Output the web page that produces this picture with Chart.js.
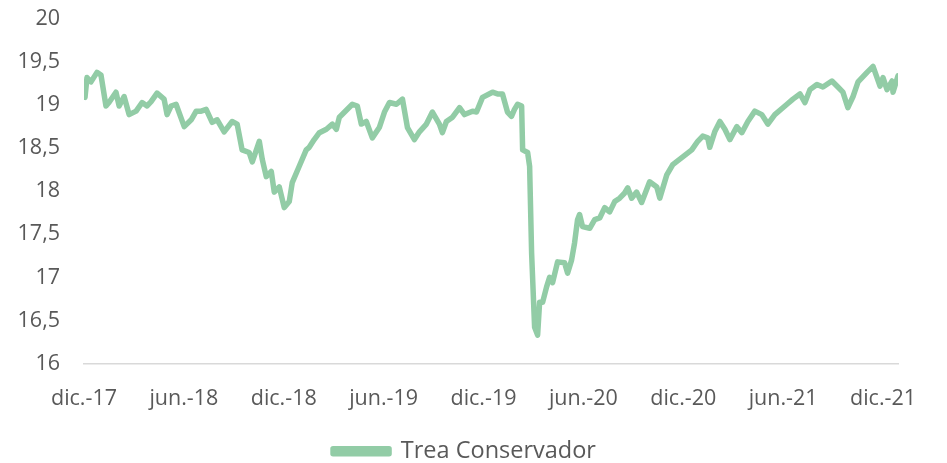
<!DOCTYPE html>
<html>
<head>
<meta charset="utf-8">
<script src="https://cdn.jsdelivr.net/npm/chart.js@4/dist/chart.umd.min.js"></script>
<style>
  html, body { margin: 0; padding: 0; background: #ffffff; }
  #wrap { width: 947px; height: 463px; position: relative; }
</style>
</head>
<body>
<div id="wrap"><canvas id="c"></canvas></div>
<script>
// Months elapsed since Dec-2017 (x position) and fund value
const months = [0.06,0.18,0.42,0.78,1.02,1.32,1.50,1.92,2.11,2.41,2.71,3.13,3.49,3.79,4.03,4.39,4.81,4.99,5.23,5.53,
  6.02,6.44,6.74,7.04,7.34,7.70,8.00,8.42,8.90,9.20,9.50,9.92,10.11,10.53,10.71,10.95,11.25,11.43,11.73,12.03,
  12.33,12.51,12.93,13.35,13.53,13.83,14.14,14.56,14.92,15.16,15.34,16.12,16.42,16.66,16.96,17.32,17.74,18.05,18.35,18.77,
  19.13,19.43,19.85,20.15,20.57,20.93,21.35,21.53,21.77,22.14,22.56,22.86,23.34,23.58,23.94,24.54,24.84,25.14,25.44,25.68,
  25.86,26.05,26.29,26.35,26.65,26.77,26.89,27.07,27.25,27.37,27.55,27.79,27.97,28.15,28.45,28.87,29.05,29.29,29.47,29.65,
  29.77,29.95,30.38,30.68,30.98,31.28,31.58,31.88,32.18,32.48,32.66,32.90,33.20,33.50,33.98,34.41,34.59,35.01,
  35.37,35.97,36.51,36.87,37.17,37.47,37.59,37.89,38.20,38.50,38.80,39.22,39.52,39.88,40.30,40.72,41.08,41.50,
  42.23,42.59,43.01,43.31,43.61,44.03,44.39,44.93,
  45.29,45.59,45.89,46.20,46.50,47.04,47.40,47.64,47.82,48.00,48.24,48.54,48.60,48.90];
const values = [19.09,19.32,19.27,19.38,19.35,18.99,19.03,19.15,18.99,19.10,18.89,18.93,19.03,18.99,19.04,19.14,19.07,18.89,18.99,19.01,
  18.75,18.83,18.93,18.93,18.95,18.80,18.83,18.69,18.81,18.78,18.48,18.45,18.34,18.58,18.37,18.17,18.23,17.99,18.05,17.81,
  17.88,18.10,18.29,18.48,18.51,18.60,18.68,18.72,18.78,18.72,18.86,19.01,18.99,18.78,18.81,18.62,18.74,18.92,19.03,19.01,
  19.07,18.74,18.60,18.69,18.78,18.92,18.78,18.68,18.81,18.86,18.97,18.89,18.93,18.92,19.09,19.15,19.13,19.13,18.92,18.87,
  18.95,19.01,18.99,18.48,18.45,18.29,17.28,16.42,16.33,16.71,16.71,16.89,17.00,16.94,17.18,17.17,17.05,17.20,17.40,17.67,
  17.73,17.59,17.57,17.67,17.69,17.81,17.76,17.88,17.92,17.98,18.04,17.92,17.99,17.87,18.11,18.05,17.92,18.19,
  18.31,18.40,18.48,18.58,18.64,18.62,18.51,18.69,18.81,18.72,18.60,18.75,18.68,18.81,18.93,18.89,18.78,18.89,
  19.01,19.07,19.13,19.03,19.18,19.24,19.21,19.28,
  19.21,19.15,18.97,19.10,19.27,19.38,19.45,19.32,19.22,19.32,19.18,19.28,19.15,19.34];
const tickMonths = [0, 6, 12, 18, 24, 30, 36, 42, 48];
const tickLabels = ['dic.-17','jun.-18','dic.-18','jun.-19','dic.-19','jun.-20','dic.-20','jun.-21','dic.-21'];
const seriesName = 'Trea Conservador';

const lineColor = '#92cca6';
const textColor = '#595959';
const fam = '"Open Sans", "Noto Sans", sans-serif';
const tickFont = { family: fam, size: 21.5 };

const legendShift = {
  id: 'legendShift',
  afterLayout(chart) { if (chart.legend) { chart.legend.left += 31; } }
};

new Chart(document.getElementById('c'), {
  type: 'line',
  data: {
    datasets: [{
      label: seriesName,
      data: months.map((m, i) => ({ x: m, y: values[i] })),
      borderColor: lineColor,
      backgroundColor: lineColor,
      borderWidth: 5.5,
      pointRadius: 0,
      tension: 0,
      borderJoinStyle: 'round',
      borderCapStyle: 'round'
    }]
  },
  plugins: [legendShift],
  options: {
    responsive: true,
    maintainAspectRatio: false,
    animation: false,
    layout: { padding: { top: 19, right: 49, left: 0, bottom: -10 } },
    scales: {
      x: {
        type: 'linear',
        min: 0,
        max: 48.9,
        afterBuildTicks: (scale) => { scale.ticks = tickMonths.map(v => ({ value: v })); },
        afterFit: (scale) => { scale.height = 69; },
        grid: { display: false, drawTicks: false },
        border: { display: true, color: '#d9d9d9', width: 1.5 },
        ticks: {
          autoSkip: false, maxRotation: 0, color: textColor, font: tickFont, padding: 22,
          callback: (v) => { const i = tickMonths.indexOf(v); return i >= 0 ? tickLabels[i] : ''; }
        }
      },
      y: {
        min: 16,
        max: 20,
        afterFit: (scale) => { scale.width = 84; scale.paddingTop = 0; scale.paddingBottom = 0; },
        grid: { display: false, drawTicks: false },
        border: { display: false },
        ticks: {
          stepSize: 0.5, color: textColor, font: tickFont, padding: 24,
          callback: (v) => String(v).replace('.', ',')
        }
      }
    },
    plugins: {
      tooltip: { enabled: false },
      legend: {
        display: true,
        position: 'bottom',
        labels: { color: textColor, font: { family: fam, size: 23.5 }, boxWidth: 56, boxHeight: 5, padding: 7 }
      }
    }
  }
});
</script>
</body>
</html>
